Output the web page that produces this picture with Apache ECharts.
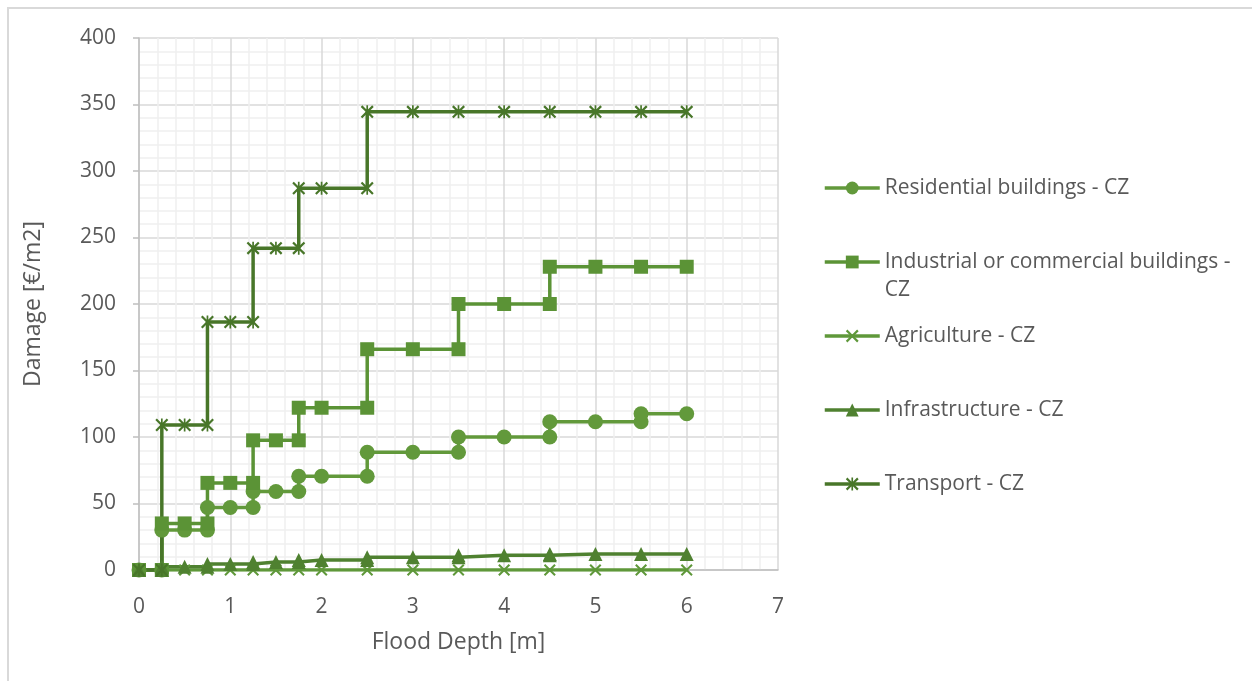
<!DOCTYPE html>
<html>
<head>
<meta charset="utf-8">
<script src="https://cdn.jsdelivr.net/npm/echarts@6/dist/echarts.min.js"></script>
<style>
  html, body { margin: 0; padding: 0; background: #fff; }
  #frame { position: absolute; left: 7px; top: 7px; width: 1300px; height: 700px;
           border-left: 2px solid #d9d9d9; border-top: 2px solid #d9d9d9; }
  #chart { position: absolute; left: 0; top: 0; width: 1252px; height: 681px; }
</style>
</head>
<body>
<div id="frame"></div>
<div id="chart"></div>
<script>
// Flood depth (m) breakpoints and damage (€/m2) per land-use class
const residentialDepth = [0, 0.25, 0.25, 0.5, 0.75, 0.75, 1, 1.25, 1.25, 1.5, 1.75, 1.75, 2, 2.5, 2.5, 3, 3.5, 3.5, 4, 4.5, 4.5, 5, 5.5, 5.5, 6];
const residentialDamage = [0, 0, 30, 30, 30, 47, 47, 47, 59, 59, 59, 70.5, 70.5, 70.5, 88.5, 88.5, 88.5, 100, 100, 100, 111.5, 111.5, 111.5, 117.5, 117.5];

const industrialDepth = [0, 0.25, 0.25, 0.5, 0.75, 0.75, 1, 1.25, 1.25, 1.5, 1.75, 1.75, 2, 2.5, 2.5, 3, 3.5, 3.5, 4, 4.5, 4.5, 5, 5.5, 6];
const industrialDamage = [0, 0, 35, 35, 35, 65.5, 65.5, 65.5, 97.5, 97.5, 97.5, 122, 122, 122, 166, 166, 166, 200, 200, 200, 228, 228, 228, 228];

const agricultureDepth = [0, 0.25, 0.5, 0.75, 1, 1.25, 1.5, 1.75, 2, 2.5, 3, 3.5, 4, 4.5, 5, 5.5, 6];
const agricultureDamage = [0, 0, 0, 0, 0, 0, 0, 0, 0, 0, 0, 0, 0, 0, 0, 0, 0];

const infrastructureDepth = [0, 0.25, 0.25, 0.5, 0.75, 0.75, 1, 1.25, 1.25, 1.5, 1.75, 1.75, 2, 2.5, 2.5, 3, 3.5, 3.5, 4, 4.5, 4.5, 5, 5.5, 6];
const infrastructureDamage = [0, 0, 2.5, 2.5, 2.5, 4.5, 4.5, 4.5, 6, 6, 6, 7.5, 7.5, 7.5, 9.5, 9.5, 9.5, 11, 11, 11, 12, 12, 12, 12];

const transportDepth = [0, 0.25, 0.25, 0.5, 0.75, 0.75, 1, 1.25, 1.25, 1.5, 1.75, 1.75, 2, 2.5, 2.5, 3, 3.5, 4, 4.5, 5, 5.5, 6];
const transportDamage = [0, 0, 109, 109, 109, 186.5, 186.5, 186.5, 242, 242, 242, 287, 287, 287, 344.5, 344.5, 344.5, 344.5, 344.5, 344.5, 344.5, 344.5];

const seriesNames = ['Residential buildings - CZ', 'Industrial or commercial buildings - CZ', 'Agriculture - CZ', 'Infrastructure - CZ', 'Transport - CZ'];
// Legend entries: the long name wraps onto a second line
const legendLabels = {
  'Industrial or commercial buildings - CZ': 'Industrial or commercial buildings -\nCZ'
};

const xTicks = { min: 0, max: 7, interval: 1 };
const yTicks = { min: 0, max: 400, interval: 50 };

// Marker glyphs: diagonal cross and asterisk
const crossPath = 'path://M0,1.2 L1.2,0 L5,3.8 L8.8,0 L10,1.2 L6.2,5 L10,8.8 L8.8,10 L5,6.2 L1.2,10 L0,8.8 L3.8,5 Z';
const starPath = crossPath.replace(' Z', ' Z M4.35,0 L5.65,0 L5.65,10 L4.35,10 Z');

function pairs(xs, ys) { return xs.map((x, i) => [x, ys[i]]); }

const textColor = '#595959';
const font = '"Open Sans", Lato, sans-serif';

function makeSeries(name, xs, ys, color, symbol, size) {
  return {
    name: name,
    type: 'line',
    data: pairs(xs, ys),
    symbol: symbol,
    symbolSize: size,
    showAllSymbol: true,
    lineStyle: { color: color, width: 3.5 },
    itemStyle: { color: color, borderWidth: 0 },
    emphasis: { disabled: true },
    animation: false
  };
}

// Each legend entry is padded to three text lines so the icon sits on the first line of a wrapped name
function legendText(name) {
  if (legendLabels[name]) return '\n' + legendLabels[name];
  return '\n' + name + '\n';
}

const chart = echarts.init(document.getElementById('chart'), null, { renderer: 'canvas' });
chart.setOption({
  backgroundColor: 'transparent',
  animation: false,
  grid: { left: 139, right: 474, top: 38, bottom: 111, containLabel: false },
  xAxis: {
    type: 'value',
    min: xTicks.min, max: xTicks.max, interval: xTicks.interval,
    name: 'Flood Depth [m]',
    nameLocation: 'middle',
    nameGap: 61,
    nameTextStyle: { color: textColor, fontSize: 23, fontFamily: font },
    axisLine: { show: true, lineStyle: { color: '#bfbfbf', width: 1.5 } },
    axisTick: { show: false },
    axisLabel: { color: textColor, fontSize: 21, fontFamily: font, margin: 27 },
    splitLine: { show: true, lineStyle: { color: '#d9d9d9', width: 1.5 } },
    minorTick: { show: false, splitNumber: 5 },
    minorSplitLine: { show: true, lineStyle: { color: '#efefef', width: 1.5 } }
  },
  yAxis: {
    type: 'value',
    min: yTicks.min, max: yTicks.max, interval: yTicks.interval,
    name: 'Damage [€/m2]',
    nameLocation: 'middle',
    nameGap: 94,
    nameRotate: 90,
    nameTextStyle: { color: textColor, fontSize: 23, fontFamily: font },
    axisLine: { show: true, lineStyle: { color: '#bfbfbf', width: 1.5 } },
    axisTick: { show: true, inside: false, length: 6, lineStyle: { color: '#bfbfbf', width: 1.5 } },
    axisLabel: { color: textColor, fontSize: 21, fontFamily: font, margin: 23 },
    splitLine: { show: true, lineStyle: { color: '#d9d9d9', width: 1.5 } },
    minorTick: { show: false, splitNumber: 5 },
    minorSplitLine: { show: true, lineStyle: { color: '#efefef', width: 1.5 } }
  },
  legend: {
    orient: 'vertical',
    left: 823,
    top: 146,
    padding: 0,
    itemWidth: 55,
    itemHeight: 16,
    itemGap: -10,
    selectedMode: false,
    data: seriesNames,
    lineStyle: { width: 3.5 },
    formatter: legendText,
    textStyle: { color: textColor, fontSize: 21, fontFamily: font, lineHeight: 28 }
  },
  series: [
    makeSeries(seriesNames[0], residentialDepth, residentialDamage, '#62993b', 'circle', 15),
    makeSeries(seriesNames[1], industrialDepth, industrialDamage, '#5b9336', 'rect', 14),
    makeSeries(seriesNames[2], agricultureDepth, agricultureDamage, '#5f983a', crossPath, 12),
    makeSeries(seriesNames[3], infrastructureDepth, infrastructureDamage, '#4f8130', 'triangle', 14),
    makeSeries(seriesNames[4], transportDepth, transportDamage, '#487629', starPath, 13)
  ]
});
</script>
</body>
</html>
